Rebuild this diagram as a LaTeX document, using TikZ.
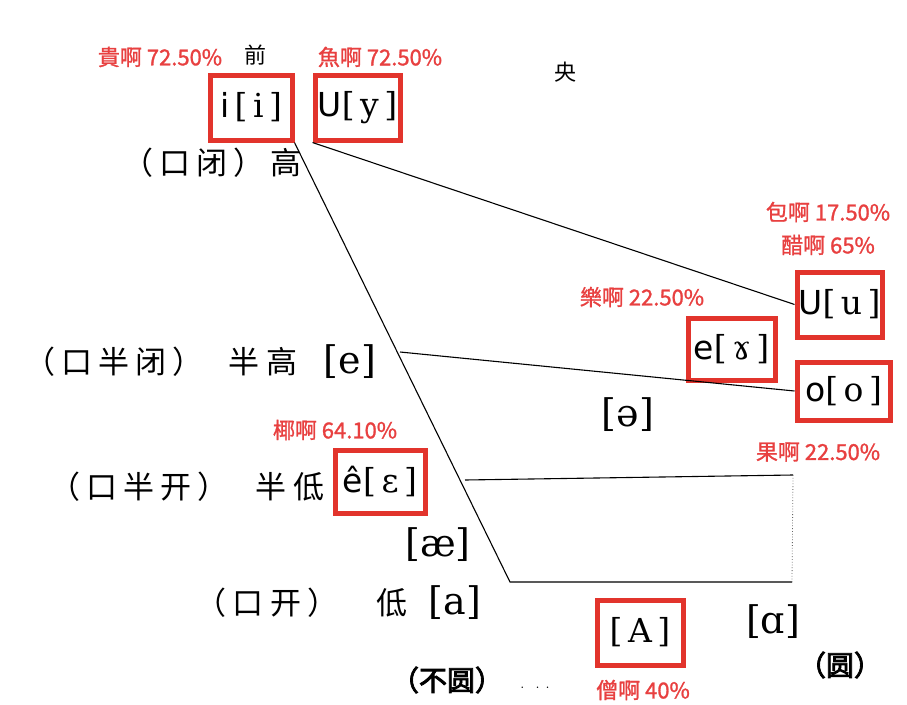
\documentclass[tikz,border=0pt]{standalone}
\usepackage{fontspec}
\newfontfamily\cjk{Noto Sans CJK SC}
\newfontfamily\cjksp[LetterSpace=20]{Noto Sans CJK SC}
\newfontfamily\cjkb[FakeBold=3]{Noto Sans CJK SC}
\newfontfamily\tc[FakeBold=1.2]{Noto Sans CJK TC}
\newfontfamily\ipas{DejaVu Sans}
\newfontfamily\ipaf{DejaVu Serif}
\definecolor{boxred}{RGB}{226,52,44}
\definecolor{txtred}{RGB}{232,64,64}
\tikzset{
  lbl/.style={text=txtred, font=\tc\fontsize{22}{22}\selectfont, inner sep=0pt},
  cjkt/.style={font=\cjksp\fontsize{31}{31}\selectfont, inner sep=0pt},
  cjkbold/.style={font=\cjkb\fontsize{28}{28}\selectfont, inner sep=0pt},
  ipa/.style={font=\ipaf\fontsize{38}{38}\selectfont, inner sep=0pt},
  vbox/.style={draw=boxred, line width=5pt, font=\ipaf\fontsize{33}{33}\selectfont, inner sep=0pt},
  conn/.style={line width=1.1pt, black},
}
\begin{document}
\begin{tikzpicture}[x=1pt,y=-1pt]
\fill[white] (0,0) rectangle (907,704);
\useasboundingbox (0,0) rectangle (907,704);
% labels top
\node[lbl] (l1) at (160,57) {貴啊 72.50\%};
\node[font=\cjk\fontsize{22}{22}\selectfont, inner sep=0pt] (qian) at (255,55) {前};
\node[lbl] (l2) at (380,57) {魚啊 72.50\%};
\node[font=\cjk\fontsize{22}{22}\selectfont, inner sep=0pt] (yang) at (565,72) {央};
% boxes
\node[vbox, minimum width=82pt, minimum height=65pt] (bi) at (251,107.5) {{\ipas i}\,[\,i\,]};
\node[vbox, minimum width=85pt, minimum height=65pt] (by) at (357.5,107.5) {{\ipas U}[\,y\,]};
\node[cjkt] (gao) at (212,163) {（口闭）高};
\node[lbl] (l3) at (828,212) {包啊 17.50\%};
\node[lbl] (l4) at (828,245) {醋啊 65\%};
\node[lbl] (l5) at (642,297) {樂啊 22.50\%};
\node[vbox, minimum width=85pt, minimum height=65pt] (bu) at (839.5,304.5) {{\ipas U}[\,u\,]};
\node[vbox, minimum width=87pt, minimum height=62pt] (bga) at (731.5,349) {{\ipas e}[\,ɤ\,]};
\node[vbox, minimum width=93pt, minimum height=58pt] (bo) at (843.5,391) {{\ipas o}[\,o\,]};
\node[ipa] (schwa) at (628,415) {[ə]};
\node[lbl] (l6) at (818,452) {果啊 22.50\%};
% rows
\node[cjkt] (bb) at (114,362) {（口半闭）};
\node[cjkt] (bgao) at (263,362) {半高};
\node[ipa] (e) at (350,362) {[e]};
\node[lbl] (l7) at (335,430) {椰啊 64.10\%};
\node[vbox, minimum width=90pt, minimum height=63pt] (beps) at (380,481.5) {{\ipas ê}[\,ɛ\,]};
\node[cjkt] (bk) at (139,487) {（口半开）};
\node[cjkt] (bdi) at (290,487) {半低};
\node[ipa] (ae) at (438,545) {[æ]};
\node[cjkt] (kk) at (267,603) {（口开）};
\node[cjkt] (di) at (392,603) {低};
\node[ipa] (a) at (455,603) {[a]};
\node[vbox, minimum width=86pt, minimum height=65pt] (bA) at (640,632.5) {[\,A\,]};
\node[lbl] (l8) at (643,690) {僧啊 40\%};
\node[ipa] (alpha) at (773,622) {[ɑ]};
\node[cjkbold] (yuan) at (840,665) {（圆）};
\node[cjkbold] (buyuan) at (447,680) {（不圆）};
\node[font=\fontsize{18}{18}\selectfont, inner sep=0pt] (dots) at (535,688) {.~~.~.};
% connectors
\coordinate (c1) at (510,582);
\coordinate (c2) at (792,582);
\coordinate (s4) at (465,480);
\coordinate (c4) at (793,475);
\coordinate (s3) at (400,352);
\draw[conn] (bi.south east) -- (c1) -- (c2);
\draw[conn] (by.south west) -- (bu.west);
\draw[conn] (s3) -- (bo.west);
\draw[conn] (s4) -- (c4);
\draw[line width=0.8pt, black!60, dotted] (c4) -- (c2);
\end{tikzpicture}
\end{document}
